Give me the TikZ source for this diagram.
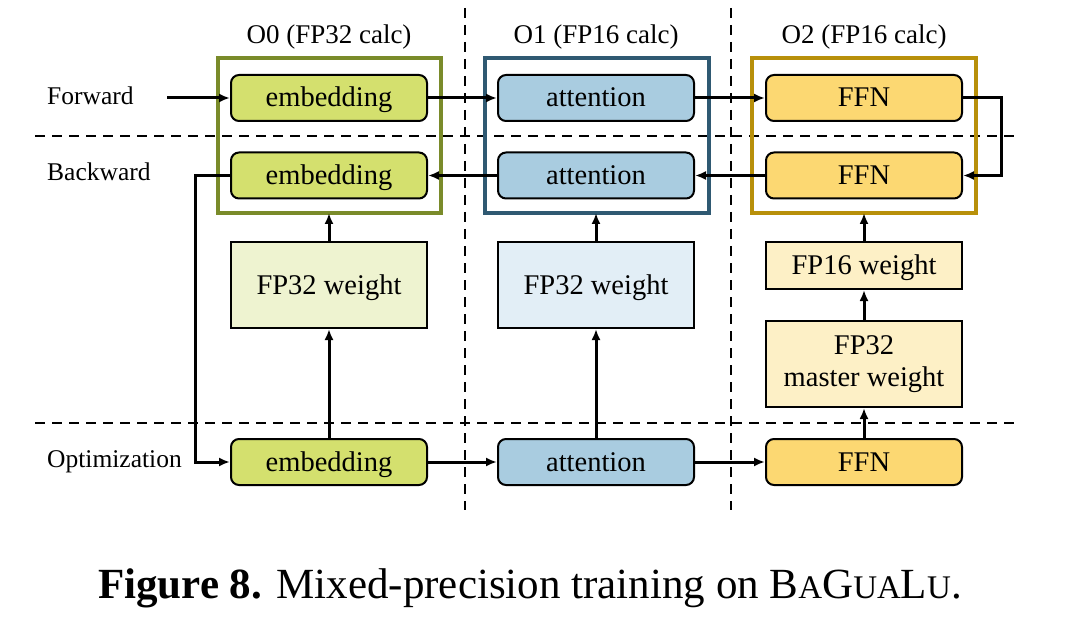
\documentclass[tikz,border=0pt]{standalone}
\usepackage{fontspec}
\setmainfont{Liberation Serif}
\usetikzlibrary{arrows.meta}
\definecolor{embfill}{RGB}{212,224,110}
\definecolor{attfill}{RGB}{169,204,224}
\definecolor{ffnfill}{RGB}{252,216,114}
\definecolor{embw}{RGB}{238,243,208}
\definecolor{attw}{RGB}{226,238,246}
\definecolor{ffnw}{RGB}{253,240,198}
\definecolor{oliveframe}{RGB}{122,139,42}
\definecolor{blueframe}{RGB}{47,89,114}
\definecolor{goldframe}{RGB}{184,144,10}
\newcommand{\smallcapsize}{\fontsize{33}{35}\selectfont}
\begin{document}
\begin{tikzpicture}[x=1pt,y=-1pt,
  op/.style={draw=black,line width=2pt,rounded corners=8pt,minimum width=196pt,minimum height=46pt,inner sep=0pt,text height=22pt,text depth=4pt,font=\fontsize{28.5}{30}\selectfont},
  wbox/.style={draw=black,line width=2pt,minimum width=196pt,inner sep=0pt,align=center,font=\fontsize{28.5}{33}\selectfont},
  oneline/.style={text height=22pt,text depth=4pt},
  frame/.style={line width=3.4pt},
  conn/.style={line width=3pt,-{Latex[length=11pt,width=9pt]}},
  sep/.style={line width=2.6pt,dash pattern=on 10pt off 7pt},
  rowlab/.style={anchor=base west,inner sep=0pt,font=\fontsize{25.5}{28}\selectfont},
  headlab/.style={anchor=base,inner sep=0pt,font=\fontsize{27}{30}\selectfont}]
\useasboundingbox (0,0) rectangle (1070,636);
% separators
\draw[sep] (35,136) -- (1020,136);
\draw[sep] (35,423) -- (1020,423);
\draw[sep] (465,8) -- (465,510);
\draw[sep] (731,8) -- (731,510);
% frames
\draw[frame,draw=oliveframe] (218,58) rectangle (441,213);
\draw[frame,draw=blueframe] (485,58) rectangle (709,213);
\draw[frame,draw=goldframe] (752,58) rectangle (976,213);
\coordinate (f0) at (329,213);
\coordinate (f1) at (596,213);
\coordinate (f2) at (864,213);
% headers
\node[headlab] (h0) at (329,44) {O0 (FP32 calc)};
\node[headlab] (h1) at (596,44) {O1 (FP16 calc)};
\node[headlab] (h2) at (864,44) {O2 (FP16 calc)};
% row labels
\node[rowlab] (lf) at (47,105) {Forward};
\node[rowlab] (lb) at (47,181) {Backward};
\node[rowlab] (lo) at (47,467) {Optimization};
\coordinate (fin) at (167,98);
% ops
\node[op,fill=embfill] (ef) at (329,98) {embedding};
\node[op,fill=attfill] (af) at (596,98) {attention};
\node[op,fill=ffnfill] (ff) at (864,98) {FFN};
\node[op,fill=embfill] (eb) at (329,175.5) {embedding};
\node[op,fill=attfill] (ab) at (596,175.5) {attention};
\node[op,fill=ffnfill] (fb) at (864,175.5) {FFN};
\node[op,fill=embfill] (eo) at (329,462) {embedding};
\node[op,fill=attfill] (ao) at (596,462) {attention};
\node[op,fill=ffnfill] (fo) at (864,462) {FFN};
% weights
\node[wbox,oneline,fill=embw,minimum height=86pt] (w0) at (329,285) {FP32 weight};
\node[wbox,oneline,fill=attw,minimum height=86pt] (w1) at (596,285) {FP32 weight};
\node[wbox,oneline,fill=ffnw,minimum height=47pt] (w2) at (864,265.5) {FP16 weight};
\node[wbox,fill=ffnw,minimum height=86pt] (m2) at (864,364) {FP32\\[-0.5pt]master weight};
% forward
\draw[conn] (fin) -- (ef.west);
\draw[conn] (ef.east) -- (af.west);
\draw[conn] (af.east) -- (ff.west);
\draw[conn] (ff.east) -- (1001,98) -- (1001,175.5) -- (fb.east);
% backward
\draw[conn] (fb.west) -- (ab.east);
\draw[conn] (ab.west) -- (eb.east);
\draw[conn] (eb.west) -- (195,175.5) -- (195,462) -- (eo.west);
% optimization
\draw[conn] (eo.east) -- (ao.west);
\draw[conn] (ao.east) -- (fo.west);
% updates
\draw[conn] (eo.north) -- (w0.south);
\draw[conn] (w0.north) -- (f0);
\draw[conn] (ao.north) -- (w1.south);
\draw[conn] (w1.north) -- (f1);
\draw[conn] (fo.north) -- (m2.south);
\draw[conn] (m2.north) -- (w2.south);
\draw[conn] (w2.north) -- (f2);
% caption
\node[anchor=base,inner sep=0pt,font=\fontsize{43}{46}\selectfont] (cap) at (530,598) {\textbf{Figure 8.} Mixed-precision training on B{\smallcapsize A}G{\smallcapsize UA}L{\smallcapsize U}.};
\end{tikzpicture}
\end{document}
